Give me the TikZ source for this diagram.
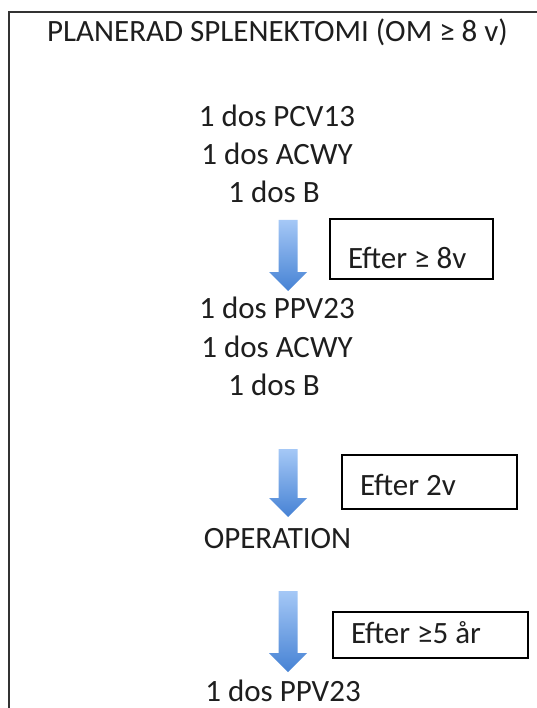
\documentclass[tikz,border=0pt]{standalone}
\usepackage{fontspec}
\setmainfont{Carlito}
\usetikzlibrary{calc}
\definecolor{inktext}{RGB}{30,30,30}
\definecolor{arrowtop}{RGB}{165,200,246}
\definecolor{arrowbot}{RGB}{70,130,212}
% fat blue arrow from a top coordinate down to a tip coordinate
\newcommand{\blockarrow}[2]{\path[arrowfill] ($(#1)+(-9.5,0)$) -- ($(#1)+(9.5,0)$) -- ($(#2)+(9.5,-19)$) -- ($(#2)+(19,-19)$) -- (#2) -- ($(#2)+(-19,-19)$) -- ($(#2)+(-9.5,-19)$) -- cycle;}

\begin{document}
\begin{tikzpicture}[x=1pt,y=-1pt,
		txt/.style={anchor=base,inner sep=0pt,text=inktext,font=\fontsize{31}{38}\selectfont},
		waitbox/.style={draw,line width=1.5pt,inner xsep=18pt,inner ysep=0pt,text depth=0pt,align=flush left,text=inktext,font=\fontsize{31}{38}\selectfont},
		arrowfill/.style={top color=arrowtop,bottom color=arrowbot,draw=none}]
		\useasboundingbox (0,0) rectangle (537,708);
		\draw[line width=2pt,draw=black!80] (9,708) -- (9,12) -- (537,12);

		\node[txt] (title) at (277.5,42) {PLANERAD SPLENEKTOMI (OM ≥ 8 v)};

		\node[txt] (pcv) at (277,127) {1 dos PCV13};
		\node[txt] (acwy1) at (277,165) {1 dos ACWY};
		\node[txt] (b1) at (274,203) {1 dos B};

		\node[txt] (ppv1) at (277,318) {1 dos PPV23};
		\node[txt] (acwy2) at (277,357) {1 dos ACWY};
		\node[txt] (b2) at (274,395) {1 dos B};

		\node[txt] (op) at (277.5,548) {OPERATION};
		\node[txt] (ppv2) at (283,701) {1 dos PPV23};

		\node[waitbox,minimum width=163,minimum height=60,text width=127,text height=38pt] (wait1) at (411.5,249) {Efter ≥ 8v};
		\node[waitbox,minimum width=175,minimum height=54,text width=139,text height=26pt] (wait2) at (429.5,482) {Efter 2v};
		\node[waitbox,minimum width=195,minimum height=46,text width=159,text height=16pt] (wait3) at (430.5,635) {Efter ≥5 år};

		\coordinate (a1top) at (288,220);
		\coordinate (a1tip) at (288,291);
		\coordinate (a2top) at (288,449);
		\coordinate (a2tip) at (288,517);
		\coordinate (a3top) at (288,591);
		\coordinate (a3tip) at (288,672);
		\blockarrow{a1top}{a1tip}
		\blockarrow{a2top}{a2tip}
		\blockarrow{a3top}{a3tip}
\end{tikzpicture}
\end{document}
